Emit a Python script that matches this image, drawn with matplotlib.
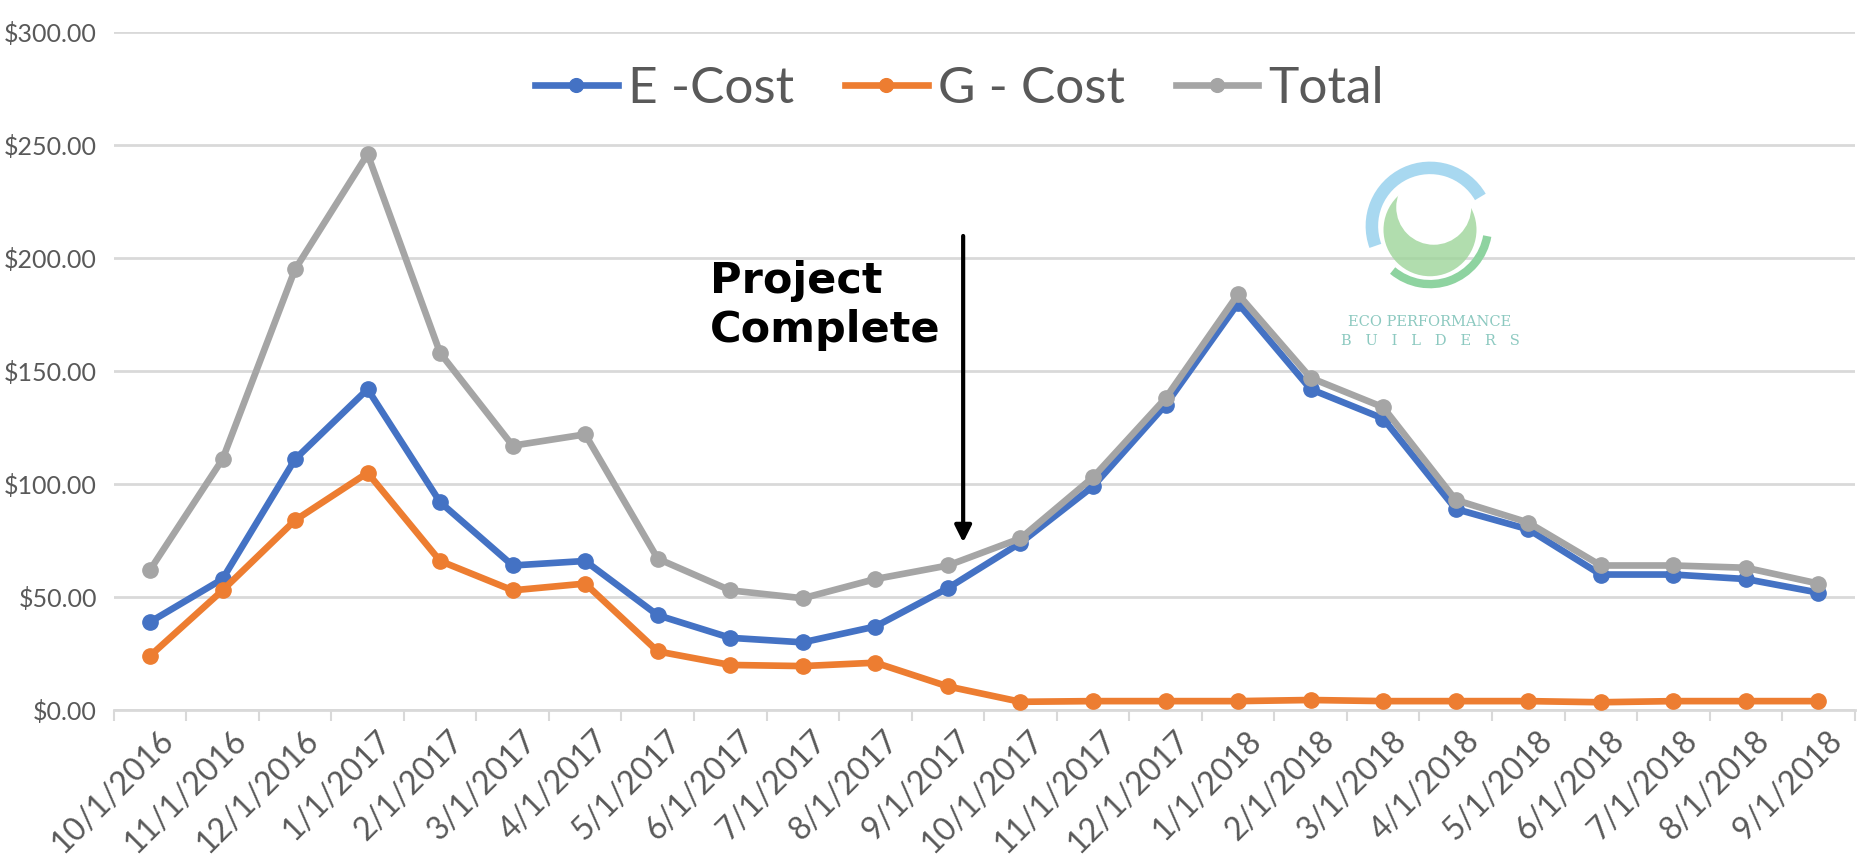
import numpy as np
import matplotlib.pyplot as plt
from matplotlib.patches import Circle, Arc
from matplotlib.transforms import ScaledTranslation

months = ["10/1/2016", "11/1/2016", "12/1/2016", "1/1/2017", "2/1/2017", "3/1/2017",
          "4/1/2017", "5/1/2017", "6/1/2017", "7/1/2017", "8/1/2017", "9/1/2017",
          "10/1/2017", "11/1/2017", "12/1/2017", "1/1/2018", "2/1/2018", "3/1/2018",
          "4/1/2018", "5/1/2018", "6/1/2018", "7/1/2018", "8/1/2018", "9/1/2018"]
e_cost = [39, 58, 111, 142, 92, 64, 66, 42, 32, 30, 37, 54,
          74, 99, 135, 180, 142, 129, 89, 80, 60, 60, 58, 52]
g_cost = [24, 53, 84, 105, 66, 53, 56, 26, 20, 19.5, 21, 10.5,
          3.7, 4, 4, 4, 4.5, 4, 4, 4, 3.5, 4, 4, 4]
total = [62, 111, 195, 246, 158, 117, 122, 67, 53, 49.5, 58, 64,
         76, 103, 138, 184, 147, 134, 93, 83, 64, 64, 63, 56]

plt.rcParams['font.family'] = ['Lato', 'DejaVu Sans']

fig = plt.figure(figsize=(18.64, 8.65), dpi=100)
ax = fig.add_axes([0.061, 0.179, 0.934, 0.784])

x = np.arange(len(months))
ax.plot(x, e_cost, color='#4472C4', lw=4.8, marker='o', ms=11, label='E -Cost', zorder=3)
ax.plot(x, g_cost, color='#ED7D31', lw=4.8, marker='o', ms=11, label='G - Cost', zorder=3)
ax.plot(x, total, color='#A5A5A5', lw=4.8, marker='o', ms=11, label='Total', zorder=4)

ax.set_xlim(-0.5, len(months) - 0.5)
ax.set_ylim(0, 300)
ax.set_yticks(np.arange(0, 301, 50))
ax.set_yticklabels(["$%.2f" % v for v in np.arange(0, 301, 50)])
ax.grid(axis='y', color='#D9D9D9', lw=2)
ax.set_axisbelow(True)
for s in ['top', 'right', 'left']:
    ax.spines[s].set_visible(False)
ax.spines['bottom'].set_color('#D9D9D9')
ax.spines['bottom'].set_linewidth(2)

ax.set_xticks(x)
ax.set_xticklabels(months, rotation=45, ha='right', rotation_mode='anchor')
ax.set_xticks(np.arange(-0.5, len(months), 1), minor=True)
ax.tick_params(axis='x', which='major', length=0, pad=11, labelsize=23, labelcolor='#595959')
ax.tick_params(axis='x', which='minor', length=8, color='#D9D9D9', width=1.5)
ax.tick_params(axis='y', length=0, pad=12, labelsize=18, labelcolor='#595959')
# nudge the rotated labels a bit to the right, like the original
for lbl in ax.get_xticklabels():
    lbl.set_transform(lbl.get_transform() + ScaledTranslation(6/72, 0, fig.dpi_scale_trans))

leg = ax.legend(loc='center', bbox_to_anchor=(0.486, 0.916), ncol=3, frameon=False,
                fontsize=37, handlelength=1.6, handletextpad=0.2, columnspacing=1.0,
                labelcolor='#595959', markerscale=0.9)

# annotation
ax.text(7.72, 199, "Project\nComplete", fontsize=31, fontweight='bold', color='black',
        family='DejaVu Sans', ha='left', va='top', linespacing=1.2)
ax.annotate("", xy=(11.21, 73), xytext=(11.21, 211),
            arrowprops=dict(arrowstyle='-|>', color='black', lw=3, mutation_scale=25))

# logo
lax = fig.add_axes([(1430 - 75) / 1864, (865 - 226 - 75) / 865, 150 / 1864, 150 / 865])
lax.set_xlim(-1, 1)
lax.set_ylim(-1, 1)
lax.set_aspect('equal')
lax.axis('off')
lax.add_patch(Circle((0, -0.05), 0.62, color='#9ed59a', alpha=0.8, lw=0))
lax.add_patch(Circle((0.05, 0.25), 0.5, color='white', lw=0))
lax.add_patch(Arc((0, 0), 1.55, 1.55, theta1=30, theta2=200, color='#a8d8f0', lw=9))
lax.add_patch(Arc((0, 0), 1.55, 1.55, theta1=230, theta2=350, color='#8ed3a0', lw=6))
fig.text(1430 / 1864, 1 - 322 / 865, "ECO PERFORMANCE", family='DejaVu Serif', fontsize=10.5,
         color='#8cc9c0', ha='center', va='center')
fig.text(1430 / 1864, 1 - 341 / 865, "B   U   I   L   D   E   R   S", family='DejaVu Serif',
         fontsize=10.5, color='#8cc9c0', ha='center', va='center')

fig.savefig("out.png", dpi=100)
